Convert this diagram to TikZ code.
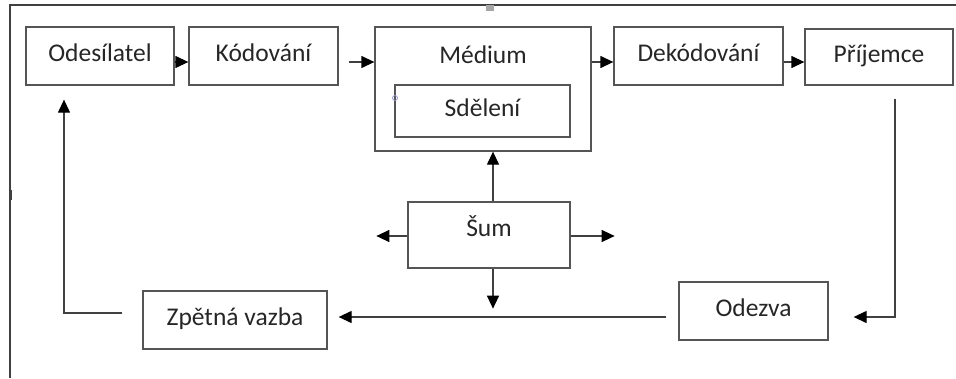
\documentclass[tikz,border=0pt]{standalone}
\usepackage{fontspec}
\setmainfont{Carlito}
\usetikzlibrary{arrows.meta}
\definecolor{boxc}{HTML}{555555}
\definecolor{linec}{HTML}{404040}
\definecolor{txtc}{HTML}{262626}
\begin{document}
\begin{tikzpicture}[x=1pt,y=-1pt,
  box/.style={draw=boxc, line width=1.3pt, inner sep=0pt, text=txtc,
    font=\fontsize{25.5}{30}\selectfont, text height=18pt, text depth=7pt},
  lbl/.style={inner sep=0pt, text=txtc, font=\fontsize{25.5}{30}\selectfont,
    text height=18pt, text depth=7pt},
  arr/.style={draw=linec, line width=1.3pt, -{Triangle[length=13pt,width=12pt,color=black]}},
  ln/.style={draw=linec, line width=1.3pt}]
\useasboundingbox (0,0) rectangle (956,378);
% frame (top and left edges)
\coordinate (fTL) at (10,5);
\coordinate (fTR) at (956,5);
\coordinate (fBL) at (10,378);
\draw[linec, line width=1.4pt] (fTR) -- (fTL) -- (fBL);
\fill[gray!70] (486,5) rectangle (494,11);
\fill[linec] (9,190) rectangle (12,200);
% boxes
\node[box, minimum width=148pt, minimum height=58pt] (send) at (100,56) {Odesílatel};
\node[box, minimum width=149pt, minimum height=58pt] (code) at (263.5,56) {Kódování};
\node[box, minimum width=216pt, minimum height=124pt] (medium) at (483,89) {};
\node[lbl] (medlbl) at (483,58) {Médium};
\node[box, minimum width=175pt, minimum height=52pt] (sdel) at (482.5,111) {Sdělení};
\node[box, minimum width=169pt, minimum height=58pt] (dek) at (698.5,56) {Dekódování};
\node[box, minimum width=148pt, minimum height=56pt] (prij) at (879,57) {Příjemce};
\node[box, minimum width=162pt, minimum height=66pt, text depth=16pt] (sum) at (489,235) {Šum};
\node[box, minimum width=149pt, minimum height=58pt] (odz) at (753.5,311) {Odezva};
\node[box, minimum width=184pt, minimum height=58pt] (zpet) at (235,320) {Zpětná vazba};
\draw[blue!40!gray!60, line width=0.8pt] (395,98) circle (2.5pt);
% top row connectors
\draw[arr] ([yshift=-6pt]send.east) -- ([yshift=-6pt]code.west);
\coordinate (c1) at ([shift={(10pt,-6pt)}]code.east);
\draw[arr] (c1) -- (c1 -| medium.west);
\coordinate (c2) at ([yshift=-6pt]dek.west);
\draw[arr] (c2 -| medium.east) -- (c2);
\coordinate (c3) at ([yshift=-6pt]dek.east);
\draw[arr] (c3) -- (c3 -| prij.west);
% feedback loop
\draw[arr] ([shift={(16pt,-13pt)}]prij.south) |- ([shift={(25pt,-6pt)}]odz.east);
\coordinate (o1) at ([shift={(-12pt,-6pt)}]odz.west);
\coordinate (z1) at ([xshift=11pt]zpet.east);
\draw[arr] (o1) -- (o1 -| z1);
\draw[arr] ([shift={(-20pt,7pt)}]zpet.west) -| ([shift={(-36pt,-14pt)}]send.south);
% noise arrows
\coordinate (s1) at ([xshift=4pt]sum.north);
\draw[arr] (s1) -- (s1 |- medium.south);
\draw[arr] ([yshift=-1pt]sum.west) -- ([shift={(-31pt,-1pt)}]sum.west);
\draw[arr] ([yshift=-1pt]sum.east) -- ([shift={(44pt,-1pt)}]sum.east);
\draw[arr] ([xshift=4pt]sum.south) -- ([shift={(4pt,-40pt)}]sum.south);
\end{tikzpicture}
\end{document}
